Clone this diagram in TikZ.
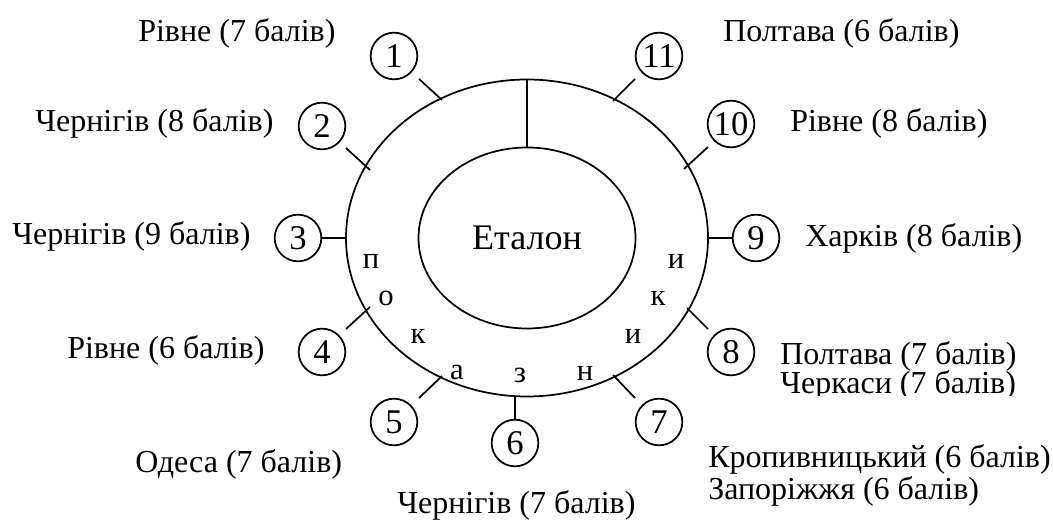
\documentclass[tikz,border=0pt]{standalone}
\usepackage{fontspec}
\setmainfont{Liberation Serif}
\usetikzlibrary{shapes.geometric}
\tikzset{
  numbox/.style={circle,draw,line width=1.3pt,minimum size=35pt,inner sep=0pt,font=\fontsize{26}{30}\selectfont},
  labtext/.style={anchor=base west,inner sep=0pt,font=\fontsize{24}{28}\selectfont},
  lettertext/.style={inner sep=0pt,font=\fontsize{23}{27}\selectfont},
  ringbox/.style={ellipse,draw,line width=1.3pt,inner sep=0pt},
  tickline/.style={line width=1.3pt}
}
\begin{document}
\begin{tikzpicture}[x=0.75pt,y=-0.75pt]
\useasboundingbox (0,0) rectangle (1053,523);
% ellipses
\node[ringbox,minimum width=271.5pt,minimum height=237.75pt] (outer) at (527,238) {};
\node[ringbox,minimum width=162.75pt,minimum height=135.75pt,font=\fontsize{27}{32}\selectfont] (inner) at (527,238) {Еталон};
\draw[tickline] (outer.north) -- (inner.north);
% circles
\node[numbox] (c1) at (394,56) {1};
\node[numbox] (c2) at (322,126) {2};
\node[numbox] (c3) at (298,238) {3};
\node[numbox] (c4) at (322,352) {4};
\node[numbox] (c5) at (394,422) {5};
\node[numbox] (c6) at (515,443) {6};
\node[numbox] (c7) at (659,422) {7};
\node[numbox] (c8) at (731,352) {8};
\node[numbox] (c9) at (756,238) {9};
\node[numbox] (c10) at (731,124) {10};
\node[numbox] (c11) at (659,56) {11};
% tick coordinates
\coordinate (a1) at (419,79);   \coordinate (b1) at (442,100);
\coordinate (a2) at (346,148);  \coordinate (b2) at (370,170);
\coordinate (b3) at (346,238);
\coordinate (a4) at (346,329);  \coordinate (b4) at (370,307);
\coordinate (a5) at (419,398);  \coordinate (b5) at (442,376);
\coordinate (b6) at (515,396);
\coordinate (a7) at (635,398);  \coordinate (b7) at (613,375);
\coordinate (a8) at (708,329);  \coordinate (b8) at (687,308);
\coordinate (b9) at (708,238);
\coordinate (a10) at (708,147); \coordinate (b10) at (684,169);
\coordinate (a11) at (635,79);  \coordinate (b11) at (613,101);
\draw[tickline] (a1) -- (b1);
\draw[tickline] (a2) -- (b2);
\draw[tickline] (c3) -- (b3);
\draw[tickline] (a4) -- (b4);
\draw[tickline] (a5) -- (b5);
\draw[tickline] (c6) -- (b6);
\draw[tickline] (a7) -- (b7);
\draw[tickline] (a8) -- (b8);
\draw[tickline] (c9) -- (b9);
\draw[tickline] (a10) -- (b10);
\draw[tickline] (a11) -- (b11);
% letters
\node[lettertext] (p1) at (371,261) {п};
\node[lettertext] (p2) at (386,298) {о};
\node[lettertext] (p3) at (418,336) {к};
\node[lettertext] (p4) at (457,372) {а};
\node[lettertext] (p5) at (520,375) {з};
\node[lettertext] (p6) at (585,373) {н};
\node[lettertext] (p7) at (633,336) {и};
\node[lettertext] (p8) at (658,298) {к};
\node[lettertext] (p9) at (676,261) {и};
% labels
\node[labtext] (l1) at (138,42) {Рівне (7 балів)};
\node[labtext] (l2) at (35,132) {Чернігів (8 балів)};
\node[labtext] (l3) at (12,245) {Чернігів (9 балів)};
\node[labtext] (l4) at (67,359) {Рівне (6 балів)};
\node[labtext] (l5) at (135,473) {Одеса (7 балів)};
\node[labtext] (l6) at (397,513) {Чернігів (7 балів)};
\node[labtext] (l7a) at (708,468) {Кропивницький (6 балів)};
\node[labtext] (l7b) at (708,500) {Запоріжжя (6 балів)};
\node[labtext] (l8a) at (780,365) {Полтава (7 балів)};
\begin{scope}
\clip (700,300) rectangle (1053,396);
\node[labtext] (l8b) at (780,394) {Черкаси (7 балів)};
\end{scope}
\node[labtext] (l9) at (805,247) {Харків (8 балів)};
\node[labtext] (l10) at (790,132) {Рівне (8 балів)};
\node[labtext] (l11) at (723,42) {Полтава (6 балів)};
\end{tikzpicture}
\end{document}
